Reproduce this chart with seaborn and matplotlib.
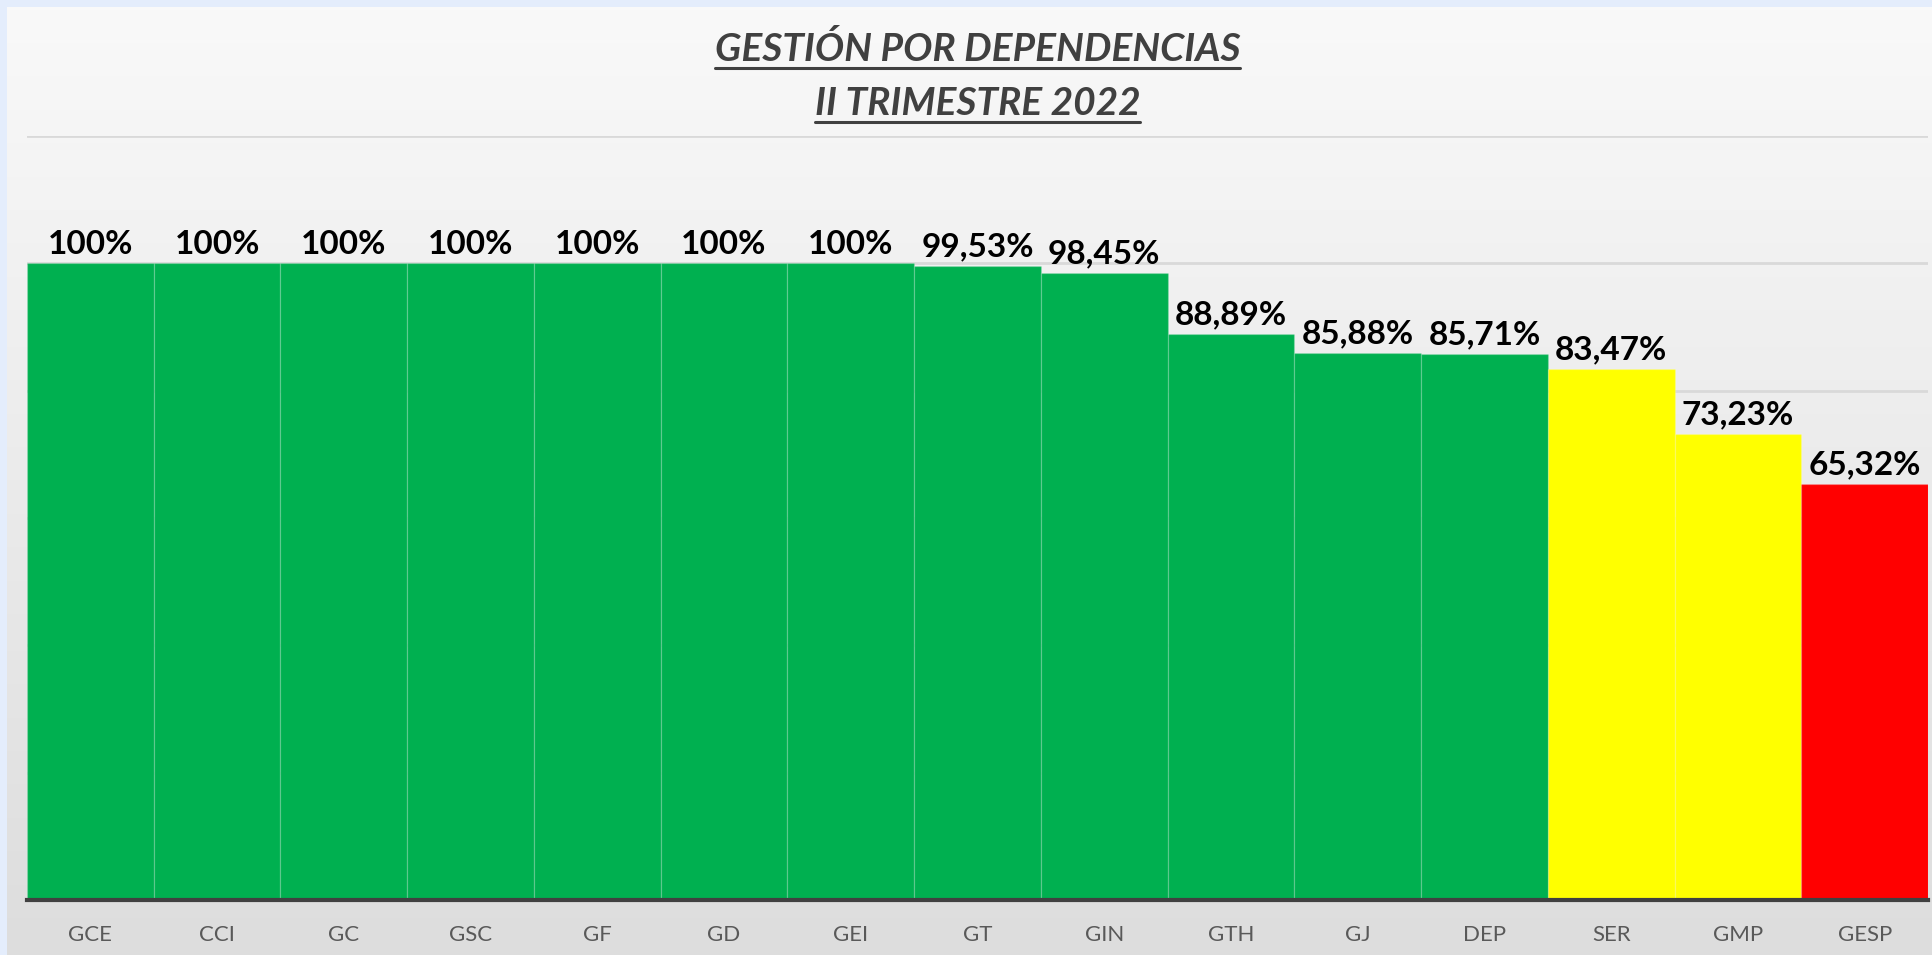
import numpy as np
import matplotlib
matplotlib.use("Agg")
import matplotlib.pyplot as plt
from matplotlib.colors import LinearSegmentedColormap
from matplotlib.lines import Line2D
import seaborn as sns

categories = ["GCE", "CCI", "GC", "GSC", "GF", "GD", "GEI", "GT", "GIN", "GTH", "GJ", "DEP", "SER", "GMP", "GESP"]
values = [1.0, 1.0, 1.0, 1.0, 1.0, 1.0, 1.0, 0.9953, 0.9845, 0.8889, 0.8588, 0.8571, 0.8347, 0.7323, 0.6532]
bar_colors = ["#00B050"] * 12 + ["#FFFF00", "#FFFF00", "#FF0000"]
title_lines = ["GESTIÓN POR DEPENDENCIAS", "II TRIMESTRE 2022"]

sns.set_theme(style="white")
plt.rcParams["font.family"] = ["Lato", "DejaVu Sans"]

W, H = 1933, 955
fig = plt.figure(figsize=(W / 100, H / 100), dpi=100)
fig.patch.set_facecolor("#E4EDFC")

# gradient panel
bg = fig.add_axes([7 / W, 0, 1 - 7 / W, 1 - 7 / H], zorder=-10)
grad = np.linspace(0, 1, 256)[:, None]
cmap = LinearSegmentedColormap.from_list("g", ["#F9F9F9", "#DDDDDD"])
bg.imshow(grad, aspect="auto", cmap=cmap, extent=[0, 1, 0, 1], origin="upper")
bg.axis("off")

left, right, bottom, top = 27, 1928, 900, 136
ax = fig.add_axes([left / W, 1 - bottom / H, (right - left) / W, (bottom - top) / H])
ax.patch.set_alpha(0)

sns.barplot(x=categories, y=values, hue=categories, palette=bar_colors, width=1.0,
            legend=False, ax=ax, saturation=1, edgecolor=(1, 1, 1, 0.15), linewidth=1.0)

ax.set_xlim(-0.5, len(categories) - 0.5)
ax.set_ylim(0, 1.2)
ax.set_yticks(np.arange(0, 1.21, 0.2))
ax.yaxis.grid(True, color="#D9D9D9", linewidth=2)
ax.set_axisbelow(True)
ax.tick_params(axis="y", left=False, labelleft=False)
ax.tick_params(axis="x", length=0, pad=18, labelsize=16, labelcolor="#595959")
ax.set_xlabel("")
ax.set_ylabel("")
for s in ["left", "right", "top"]:
    ax.spines[s].set_visible(False)
ax.spines["bottom"].set_color("#404040")
ax.spines["bottom"].set_linewidth(3)

for i, v in enumerate(values):
    lab = "100%" if v >= 1 else f"{v * 100:.2f}".replace(".", ",") + "%"
    ax.annotate(lab, (i, v), xytext=(0, 7), textcoords="offset points",
                ha="center", va="baseline", fontsize=24, fontweight="bold", color="black")

xc = ((left + right) / 2) / W
t1 = fig.text(xc, 1 - 61 / H, title_lines[0], ha="center", va="baseline",
              fontsize=28, fontweight="bold", fontstyle="italic", color="#404040")
t2 = fig.text(xc, 1 - 115 / H, title_lines[1], ha="center", va="baseline",
              fontsize=28, fontweight="bold", fontstyle="italic", color="#404040")

fig.canvas.draw()
r = fig.canvas.get_renderer()
for t, ybase in [(t1, 61), (t2, 115)]:
    bb = t.get_window_extent(r)
    y = 1 - (ybase + 7) / H
    fig.add_artist(Line2D([bb.x0 / W, bb.x1 / W], [y, y], transform=fig.transFigure,
                          color="#404040", linewidth=2.2))

fig.savefig("out.png", dpi=100, facecolor=fig.get_facecolor())
